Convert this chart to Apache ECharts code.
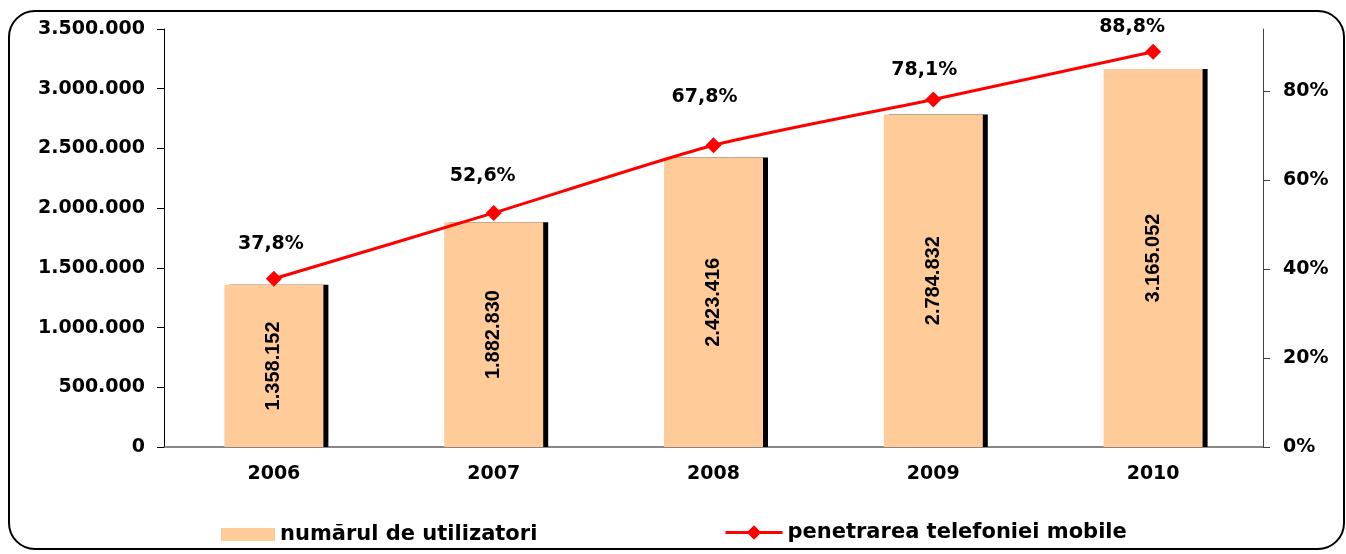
<!DOCTYPE html>
<html>
<head>
<meta charset="utf-8">
<script src="https://cdn.jsdelivr.net/npm/echarts@6/dist/echarts.min.js"></script>
<style>
html, body { margin: 0; padding: 0; background: #fff; }
#chart { width: 1346px; height: 554px; }
</style>
</head>
<body>
<div id="chart"></div>
<script>
var years = ['2006', '2007', '2008', '2009', '2010'];
var users = [1358152, 1882830, 2423416, 2784832, 3165052];
var penetration = [37.8, 52.6, 67.8, 78.1, 88.8];

var wideFont = '"DejaVu Sans", sans-serif';
var arialFont = '"Liberation Sans", Arial, sans-serif';

// manual nudges of the percent labels, like in the original sheet
var pctLabelOffset = [[-3, -35], [-11, -37], [-9, -48], [-9, -29], [-21, -25]];

function dots(n) {
    return String(n).replace(/\B(?=(\d{3})+(?!\d))/g, '.');
}

var chart = echarts.init(document.getElementById('chart'));
chart.setOption({
    backgroundColor: '#fff',
    animation: false,
    textStyle: { fontFamily: wideFont },
    graphic: [{
        type: 'rect',
        shape: { x: 9, y: 11, width: 1335, height: 538, r: 26 },
        style: { fill: 'none', stroke: '#000', lineWidth: 2 },
        z: -1
    }],
    grid: { left: 164, right: 83, top: 29, bottom: 107 },
    legend: [{
        left: 221, top: 524, padding: 0,
        itemWidth: 54, itemHeight: 13, itemGap: 8,
        icon: 'rect',
        data: ['numărul de utilizatori'],
        textStyle: { fontFamily: wideFont, fontWeight: 'bold', fontSize: 21, color: '#000' }
    }, {
        left: 724, top: 522, padding: 0,
        itemWidth: 57, itemHeight: 18, itemGap: 6,
        lineStyle: { width: 3 },
        data: ['penetrarea telefoniei mobile'],
        textStyle: { fontFamily: wideFont, fontWeight: 'bold', fontSize: 21, color: '#000' }
    }],
    xAxis: {
        type: 'category',
        data: years,
        axisLine: { lineStyle: { color: '#606060', width: 1.5 } },
        axisTick: { show: false },
        axisLabel: { color: '#000', fontWeight: 'bold', fontSize: 19, margin: 18, fontFamily: wideFont }
    },
    yAxis: [{
        type: 'value',
        min: 0, max: 3500000, interval: 500000,
        axisLine: { show: true, lineStyle: { color: '#000' } },
        axisTick: { show: true, length: 7, lineStyle: { color: '#000' } },
        splitLine: { show: false },
        axisLabel: {
            color: '#000', fontWeight: 'bold', fontSize: 19, margin: 19, fontFamily: wideFont,
            formatter: function (v) { return dots(v); }
        }
    }, {
        type: 'value',
        min: 0, max: 93.93, interval: 20,
        axisLine: { show: true, lineStyle: { color: '#404040' } },
        axisTick: { show: true, length: 7, lineStyle: { color: '#404040' } },
        splitLine: { show: false },
        axisLabel: {
            color: '#000', fontWeight: 'bold', fontSize: 19, margin: 20, fontFamily: wideFont,
            showMaxLabel: false,
            formatter: function (v) { return v + '%'; }
        }
    }],
    series: [{
        name: 'numărul de utilizatori',
        type: 'bar',
        data: users,
        barWidth: 99,
        itemStyle: {
            color: '#FFCC99',
            shadowColor: '#000',
            shadowOffsetX: 5,
            shadowOffsetY: 0,
            shadowBlur: 0
        },
        label: {
            show: true,
            position: 'inside',
            rotate: 90,
            color: '#000',
            fontWeight: 'bold',
            fontSize: 20,
            fontFamily: arialFont,
            formatter: function (p) { return dots(p.value); }
        }
    }, {
        name: 'penetrarea telefoniei mobile',
        type: 'line',
        yAxisIndex: 1,
        data: penetration.map(function (v, i) {
            return { value: v, label: { offset: pctLabelOffset[i] } };
        }),
        smooth: 0.2,
        symbol: 'diamond',
        symbolSize: 16,
        lineStyle: { color: '#FF0000', width: 3 },
        itemStyle: { color: '#FF0000' },
        label: {
            show: true,
            position: 'inside',
            color: '#000',
            fontWeight: 'bold',
            fontSize: 19,
            fontFamily: wideFont,
            formatter: function (p) { return String(p.value).replace('.', ',') + '%'; }
        }
    }]
});
</script>
</body>
</html>
